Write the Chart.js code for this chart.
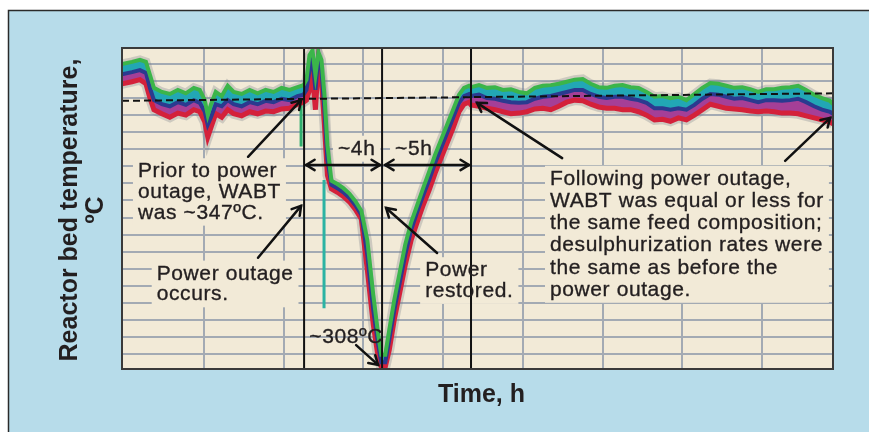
<!DOCTYPE html>
<html>
<head>
<meta charset="utf-8">
<script src="https://cdn.jsdelivr.net/npm/chart.js@4.4.1/dist/chart.umd.min.js"></script>
<style>
  html, body { margin: 0; padding: 0; background: #fff; }
</style>
</head>
<body>
<canvas id="chart" width="869" height="432"></canvas>
<script>
// time, h
const hours = [
  -0.1, 0.4, 0.8, 1.1, 1.3, 1.5, 1.9, 2.3, 2.7, 3.1, 3.5, 3.8, 4.05, 4.2, 4.35, 4.6, 4.9, 5.2, 5.5, 5.9, 6.3, 6.7, 7.1, 7.5, 7.9, 8.3, 8.7, 9.0,
  9.15, 9.3, 9.45, 9.6, 9.75, 9.9, 10.05, 10.2, 10.4, 10.7, 11.0, 11.3, 11.6, 11.9, 12.2, 12.5, 12.75, 12.9,
  13.1, 13.3, 13.55, 13.8, 14.1, 14.4, 14.7, 15.0, 15.3, 15.6, 15.9, 16.2, 16.5, 16.8, 17.05, 17.3,
  17.4, 17.8, 18.2, 18.6, 19.0, 19.4, 19.8, 20.2, 20.6, 21.0, 21.4, 21.8, 22.2, 22.6, 23.0, 23.4, 23.8, 24.2, 24.6,
  25.0, 25.4, 25.8, 26.2, 26.6, 27.0, 27.4, 27.8, 28.2, 28.6, 29.0, 29.4, 29.8, 30.2, 30.6, 31.0, 31.4, 31.8, 32.2,
  32.6, 33.0, 33.4, 33.8, 34.2, 34.6, 35.0, 35.4, 35.55
];

// bed thermocouple traces, ºC (upper / middle / lower edge of the band)
const tempGreen = [
  352.5, 352.8, 353.1, 352.8, 350.9, 349.0, 348.4, 348.1, 348.7, 348.2, 349.0, 348.7, 347.2, 345.0, 346.5, 348.4, 347.8, 349.3, 348.4, 348.1, 348.7, 348.2, 348.7, 348.4, 349.0, 348.7, 349.1, 349.4,
  350.2, 353.8, 354.5, 350.9, 354.2, 353.1, 348.0, 340.6, 335.4, 334.9, 334.3, 333.5, 332.4, 331.0, 326.7, 318.6, 312.8, 309.9,
  309.9, 313.5, 317.9, 321.6, 326.0, 329.3, 331.8, 334.3, 336.7, 339.2, 341.4, 343.6, 345.8, 348.0, 349.0, 349.3,
  349.1, 349.4, 349.0, 349.1, 348.7, 348.8, 348.4, 348.2, 349.0, 349.3, 349.4, 349.6, 349.9, 350.2, 350.3, 349.6, 349.1, 349.0, 349.3,
  349.4, 349.1, 349.0, 348.4, 347.7, 347.8, 347.5, 347.7, 347.2, 348.1, 349.0, 349.7, 349.6, 349.3, 349.0, 349.1, 348.8, 348.4, 348.8,
  348.8, 349.0, 349.1, 349.3, 348.7, 348.0, 347.5, 347.1, 346.6
];
const tempBlue = [
  351.0, 351.3, 351.6, 351.2, 349.0, 347.2, 346.6, 346.3, 346.9, 346.5, 347.2, 346.8, 345.5, 343.6, 344.6, 346.6, 346.3, 347.2, 346.6, 346.3, 346.9, 346.6, 347.1, 346.9, 347.4, 347.2, 347.8, 348.0,
  348.7, 351.6, 353.1, 348.7, 353.8, 351.6, 345.8, 338.4, 334.8, 334.3, 333.7, 332.9, 331.8, 330.4, 324.5, 316.4, 311.3, 308.8,
  308.8, 312.1, 316.4, 320.1, 324.5, 328.2, 330.8, 333.2, 335.5, 338.0, 340.2, 342.4, 344.6, 346.8, 347.8, 348.1,
  347.8, 348.0, 347.5, 347.4, 347.1, 346.9, 346.8, 346.9, 347.4, 347.7, 347.8, 348.1, 348.4, 348.7, 348.7, 348.1, 347.7, 347.5, 347.7,
  347.7, 347.4, 347.2, 346.8, 346.0, 346.0, 345.8, 346.0, 345.8, 346.5, 347.4, 348.1, 348.0, 347.7, 347.4, 347.5, 347.2, 346.9, 347.2,
  347.2, 347.1, 347.2, 347.4, 346.9, 346.3, 345.8, 345.5, 345.2
];
const tempRed = [
  349.6, 349.9, 350.2, 349.6, 347.5, 345.8, 345.2, 344.7, 345.3, 345.0, 345.8, 345.5, 344.0, 341.8, 343.1, 345.2, 344.7, 345.8, 345.2, 344.9, 345.5, 345.2, 345.6, 345.5, 345.9, 346.0, 346.6, 346.9,
  347.2, 348.7, 350.9, 345.8, 353.1, 350.2, 343.6, 336.2, 334.2, 333.7, 333.1, 332.3, 331.2, 329.8, 322.3, 314.3, 309.4, 308.1,
  308.1, 310.6, 315.0, 318.6, 323.0, 326.7, 329.3, 331.8, 334.0, 336.5, 338.7, 340.9, 343.1, 345.5, 346.6, 346.9,
  346.5, 346.3, 346.0, 345.8, 345.5, 345.2, 345.3, 345.5, 345.9, 346.0, 345.8, 346.3, 346.9, 347.2, 347.1, 346.6, 346.2, 346.0, 346.0,
  345.8, 345.8, 345.5, 345.0, 344.3, 344.4, 344.1, 344.6, 344.3, 345.0, 345.8, 346.6, 346.3, 346.0, 345.9, 345.8, 345.6, 345.5, 345.6,
  345.5, 345.3, 345.3, 345.2, 344.9, 344.6, 344.3, 344.0, 343.7
];

// short dropouts of single thermocouples
const dropHoursA = [8.88, 8.88];
const dropTempA = [347.0, 340.4];
const dropHoursB = [10.03, 10.03];
const dropTempB = [335.5, 316.7];

// WABT before the outage (~347 ºC), dashed reference
const refHours = [-0.1, 35.55];
const refTemp = [347.1, 348.2];

// outage start, power restored, back to normal, h
const eventHours = [9.03, 12.94, 17.4];

// chart paper grid
const xGrid = [4, 8, 12, 16, 20, 24, 28, 32];
const yGrid = [310, 312.5, 315, 317.5, 320, 322.5, 325, 327.5, 330, 332.5, 335, 337.5, 340, 342.5, 345, 347.5, 350, 352.5];

const X_MIN = -0.1, X_MAX = 35.55, Y_MIN = 307.8, Y_MAX = 354.84;

// callouts: anchor (h, ºC) of first baseline
const notes = [
  { x: 0.7, y: 335.9, lh: 20.7, lines: ['Prior to power', 'outage, WABT', 'was ~347ºC.'] },
  { x: 1.64, y: 320.9, lh: 20.7, lines: ['Power outage', 'occurs.'] },
  { x: 15.1, y: 321.4, lh: 20.7, lines: ['Power', 'restored.'] },
  { x: 9.29, y: 311.6, lh: 20.7, lines: ['~308ºC'], noBox: true },
  { x: 10.73, y: 339.2, lh: 20.7, lines: ['~4h'] },
  { x: 13.59, y: 339.2, lh: 20.7, lines: ['~5h'] },
  { x: 21.36, y: 334.8, lh: 22.2, lines: ['Following power outage,', 'WABT was equal or less for', 'the same feed composition;', 'desulphurization rates were', 'the same as before the', 'power outage.'] }
];
// arrows: from (h, ºC) to (h, ºC)
const arrows = [
  [6.22, 338.9, 8.88, 347.2],
  [6.72, 324.1, 8.88, 331.7],
  [15.70, 324.8, 13.14, 331.4],
  [11.64, 311.3, 12.74, 308.4],
  [21.97, 338.7, 17.70, 346.8],
  [33.15, 338.3, 35.41, 344.6]
];
// double arrows for the durations
const spans = [[9.13, 12.84, 337.7], [13.09, 17.30, 337.7]];

const pts = (xs, ys) => xs.map((x, i) => ({ x: x, y: ys[i] }));

const FONT = '"Liberation Sans", Arial, Helvetica, sans-serif';
const INK = '#231f20';

function line(xs, ys, color, width, order, extra) {
  return Object.assign({
    data: pts(xs, ys),
    borderColor: color,
    borderWidth: width,
    pointRadius: 0,
    tension: 0,
    fill: false,
    order: order
  }, extra || {});
}

const datasets = [
  line(hours, tempGreen, '#3bb54a', 4, 3),                                              // 0
  line(hours, tempBlue, '#2b3a8f', 4, 4, { fill: { target: 0, above: '#22a7b5', below: '#22a7b5' } }), // 1
  line(hours, tempRed, '#d4213a', 5, 5, { fill: { target: 1, above: '#a53f97', below: '#a53f97' } }),  // 2
  line(hours, tempGreen, 'rgba(120,125,135,0.3)', 9, 9),
  line(hours, tempRed, 'rgba(120,125,135,0.3)', 10, 9),
  line(dropHoursA, dropTempA, '#2fae6e', 3, 6),
  line(dropHoursB, dropTempB, '#2bb3a3', 3, 6),
  line(refHours, refTemp, '#111', 2, 1, { borderDash: [7, 4] })
];
eventHours.forEach(h => datasets.push(line([h, h], [Y_MIN, Y_MAX], '#111', 2, 0)));

function toPx(chart, h, t) {
  return [chart.scales.x.getPixelForValue(h), chart.scales.y.getPixelForValue(t)];
}

function head(ctx, x1, y1, x2, y2) {
  const a = Math.atan2(y2 - y1, x2 - x1), L = 10, w = 0.55;
  ctx.beginPath();
  ctx.moveTo(x2 - L * Math.cos(a - w), y2 - L * Math.sin(a - w));
  ctx.lineTo(x2, y2);
  ctx.lineTo(x2 - L * Math.cos(a + w), y2 - L * Math.sin(a + w));
  ctx.stroke();
}

function noteBox(ctx, n, px, py) {
  let w = 0;
  n.lines.forEach(s => { w = Math.max(w, ctx.measureText(s).width); });
  return { x: px - 5, y: py - 19, w: w + 10, h: (n.lines.length - 1) * n.lh + 26 };
}

const paper = {
  id: 'paper',
  beforeDraw(chart) {
    const ctx = chart.ctx, a = chart.chartArea;
    ctx.save();
    ctx.fillStyle = '#fff';
    ctx.fillRect(0, 0, chart.width, chart.height);
    ctx.fillStyle = '#b7dcea';
    ctx.fillRect(8, 10, chart.width, chart.height);
    ctx.strokeStyle = '#2a2a2a';
    ctx.lineWidth = 1.5;
    ctx.beginPath();
    ctx.moveTo(8.5, chart.height);
    ctx.lineTo(8.5, 10.5);
    ctx.lineTo(chart.width, 10.5);
    ctx.stroke();
    ctx.fillStyle = '#f2ead7';
    ctx.fillRect(a.left, a.top, a.right - a.left, a.bottom - a.top);
    ctx.restore();
  },
  beforeDatasetsDraw(chart) {
    const ctx = chart.ctx;
    ctx.save();
    ctx.font = '21px ' + FONT;
    ctx.letterSpacing = '0.6px';
    ctx.fillStyle = '#f2ead7';
    notes.forEach(n => {
      if (n.noBox) return;
      const [px, py] = toPx(chart, n.x, n.y);
      const b = noteBox(ctx, n, px, py);
      ctx.fillRect(b.x, b.y, b.w, b.h);
    });
    ctx.restore();
  },
  afterDatasetsDraw(chart) {
    const ctx = chart.ctx;
    ctx.save();
    ctx.font = '21px ' + FONT;
    ctx.letterSpacing = '0.6px';
    ctx.fillStyle = INK;
    ctx.strokeStyle = INK;
    ctx.lineWidth = 0.35;
    ctx.textBaseline = 'alphabetic';
    notes.forEach(n => {
      const [px, py] = toPx(chart, n.x, n.y);
      n.lines.forEach((s, i) => {
        ctx.fillText(s, px, py + i * n.lh);
        ctx.strokeText(s, px, py + i * n.lh);
      });
    });
    ctx.strokeStyle = '#111';
    ctx.lineWidth = 2.5;
    ctx.lineCap = 'round';
    ctx.lineJoin = 'miter';
    arrows.forEach(r => {
      const [x1, y1] = toPx(chart, r[0], r[1]);
      const [x2, y2] = toPx(chart, r[2], r[3]);
      ctx.beginPath();
      ctx.moveTo(x1, y1);
      ctx.lineTo(x2, y2);
      ctx.stroke();
      head(ctx, x1, y1, x2, y2);
    });
    spans.forEach(s => {
      const [x1, y] = toPx(chart, s[0], s[2]);
      const [x2] = toPx(chart, s[1], s[2]);
      ctx.beginPath();
      ctx.moveTo(x1, y);
      ctx.lineTo(x2, y);
      ctx.stroke();
      head(ctx, x2, y, x1, y);
      head(ctx, x1, y, x2, y);
    });
    ctx.restore();
  },
  afterDraw(chart) {
    const ctx = chart.ctx, a = chart.chartArea;
    ctx.save();
    ctx.strokeStyle = '#3a3a3a';
    ctx.lineWidth = 2;
    ctx.strokeRect(a.left, a.top, a.right - a.left, a.bottom - a.top);
    ctx.fillStyle = INK;
    ctx.font = 'bold 25px ' + FONT;
    ctx.textAlign = 'center';
    ctx.fillText('Time, h', (a.left + a.right) / 2 + 4, 402);
    ctx.translate(77, 210);
    ctx.rotate(-Math.PI / 2);
    ctx.fillText('Reactor bed temperature,', 0, 0);
    ctx.fillText('ºC', 0, 26);
    ctx.restore();
  }
};

new Chart(document.getElementById('chart'), {
  type: 'line',
  data: { datasets: datasets },
  plugins: [paper],
  options: {
    responsive: false,
    animation: false,
    layout: { padding: { left: 122, top: 48, right: 36, bottom: 63 } },
    plugins: { legend: { display: false }, tooltip: { enabled: false } },
    scales: {
      x: {
        type: 'linear', min: X_MIN, max: X_MAX,
        afterBuildTicks: s => { s.ticks = xGrid.map(v => ({ value: v })); },
        ticks: { display: false },
        grid: { color: '#a3aab3', lineWidth: 2, drawTicks: false },
        border: { display: false }
      },
      y: {
        type: 'linear', min: Y_MIN, max: Y_MAX,
        afterBuildTicks: s => { s.ticks = yGrid.map(v => ({ value: v })); },
        ticks: { display: false },
        grid: { color: '#a3aab3', lineWidth: 2, drawTicks: false },
        border: { display: false }
      }
    }
  }
});
</script>
</body>
</html>
